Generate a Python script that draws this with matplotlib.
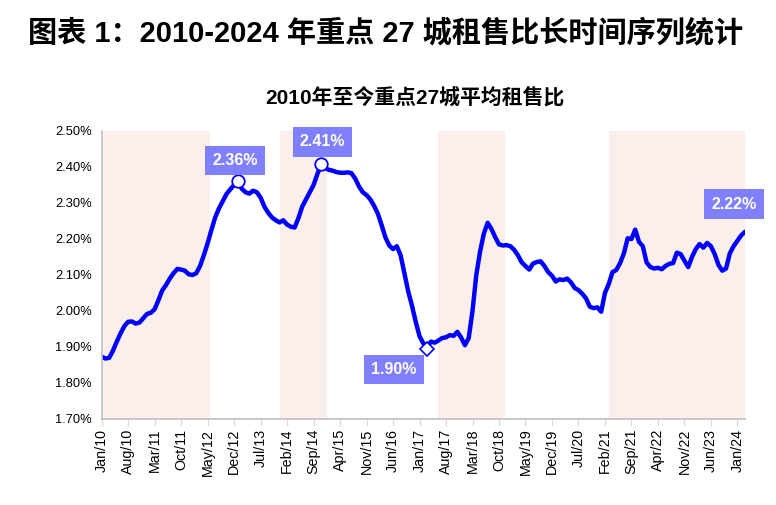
import matplotlib
matplotlib.use("Agg")
import matplotlib.pyplot as plt
import pandas as pd

plt.rcParams['font.family'] = ['Liberation Sans', 'Noto Sans CJK SC', 'DejaVu Sans']

# 2010-01 .. 2024-03 monthly average rent-to-price ratio (%) of 27 key cities
ratio = [
    1.873, 1.868, 1.870, 1.890, 1.915, 1.938, 1.958, 1.970, 1.971, 1.965,
    1.968, 1.980, 1.992, 1.995, 2.005, 2.030, 2.057, 2.072, 2.090, 2.105,
    2.117, 2.115, 2.112, 2.102, 2.100, 2.105, 2.125, 2.155, 2.188, 2.225,
    2.260, 2.285, 2.305, 2.325, 2.338, 2.350, 2.360, 2.340, 2.330, 2.326,
    2.334, 2.330, 2.315, 2.290, 2.273, 2.260, 2.252, 2.246, 2.252, 2.240,
    2.234, 2.232, 2.258, 2.290, 2.310, 2.330, 2.350, 2.380, 2.408, 2.398,
    2.392, 2.390, 2.386, 2.384, 2.384, 2.385, 2.383, 2.368, 2.346, 2.330,
    2.322, 2.310, 2.292, 2.270, 2.238, 2.204, 2.182, 2.172, 2.180, 2.155,
    2.105, 2.055, 2.015, 1.970, 1.930, 1.910, 1.900, 1.915, 1.912, 1.918,
    1.925, 1.927, 1.933, 1.931, 1.942, 1.926, 1.905, 1.925, 2.000, 2.100,
    2.165, 2.215, 2.245, 2.228, 2.205, 2.185, 2.182, 2.183, 2.180, 2.170,
    2.155, 2.135, 2.125, 2.115, 2.132, 2.136, 2.138, 2.125, 2.108, 2.098,
    2.082, 2.088, 2.086, 2.090, 2.080, 2.064, 2.058, 2.048, 2.035, 2.012,
    2.008, 2.010, 1.998, 2.050, 2.075, 2.108, 2.114, 2.133, 2.160, 2.202,
    2.200, 2.226, 2.192, 2.180, 2.135, 2.122, 2.118, 2.120, 2.116, 2.125,
    2.131, 2.133, 2.162, 2.158, 2.140, 2.122, 2.150, 2.172, 2.186, 2.176,
    2.189, 2.180, 2.158, 2.128, 2.112, 2.118, 2.160, 2.180, 2.195, 2.210,
    2.220,
]
months = pd.date_range("2010-01-01", periods=len(ratio), freq="MS")

# shaded periods (start, end)
shade_start = ["2010-01", "2013-12", "2017-06", "2021-03"]
shade_end = ["2012-05", "2014-12", "2018-11", "2024-03"]

# labelled points
peak_labels = ["2013-01", "2014-11"]
low_label = "2017-03"

x = list(range(len(ratio)))
idx = {m.strftime("%Y-%m"): i for i, m in enumerate(months)}

fig = plt.figure(figsize=(7.76, 5.05), dpi=100)
ax = fig.add_axes([0.131, 0.1703, 0.829, 0.5703])

for s, e in zip(shade_start, shade_end):
    ax.axvspan(idx[s], idx[e] + 0.5, color="#FAEFEA", lw=0, zorder=0)

ax.plot(x, ratio, color="#0000FF", lw=3.2, solid_capstyle="round", zorder=2)

box = dict(boxstyle="square,pad=0.45", fc="#8080FF", ec="none")
txt = dict(color="white", fontsize=11.5, fontweight="bold", ha="center", va="center",
           textcoords="offset points", bbox=box, zorder=5)

offsets = [(-2, 15), (1, 16)]
for p, off in zip(peak_labels, offsets):
    i = idx[p]
    ax.plot(i, ratio[i], "o", ms=9, mfc="white", mec="#0000FF", mew=1.3, zorder=4)
    ax.annotate(f"{ratio[i]:.2f}%", (i, ratio[i]), xytext=off, **txt)

i = idx[low_label]
ax.plot(i, ratio[i] - 0.006, "D", ms=7, mfc="white", mec="#0000FF", mew=1.2, zorder=4)
ax.annotate(f"{ratio[i]:.2f}%", (i, ratio[i]), xytext=(-24, -16), **txt)

i = len(ratio) - 1
ax.annotate(f"{ratio[i]:.2f}%", (i, ratio[i]), xytext=(-8, 20), **txt)

ax.set_xlim(0, len(ratio) - 1)
ax.set_ylim(1.70, 2.50)
yt = [1.70 + 0.1 * k for k in range(9)]
ax.set_yticks(yt)
ax.set_yticklabels([f"{v:.2f}%" for v in yt], fontsize=9.3)
xt = list(range(0, len(ratio), 7))
ax.set_xticks(xt)
ax.set_xticklabels([months[k].strftime("%b/%y") for k in xt], rotation=90, fontsize=10.3)

for s in ["top", "right"]:
    ax.spines[s].set_visible(False)
for s in ["left", "bottom"]:
    ax.spines[s].set_color("#C0C0C0")
    ax.spines[s].set_linewidth(1.2)
ax.tick_params(axis="y", length=0, pad=7)
ax.tick_params(axis="x", length=5, color="#D9D9D9", pad=2)

fig.text(0.4975, 0.934, "图表 1：2010-2024 年重点 27 城租售比长时间序列统计",
         ha="center", va="center", fontsize=21, fontweight="bold",
         family=["Liberation Sans", "Noto Sans CJK SC"])
fig.text(0.535, 0.808, "2010年至今重点27城平均租售比", ha="center", va="center",
         fontsize=15, fontweight="bold", family=["Liberation Sans", "Noto Sans CJK SC"])

fig.savefig("out.png", dpi=100)
